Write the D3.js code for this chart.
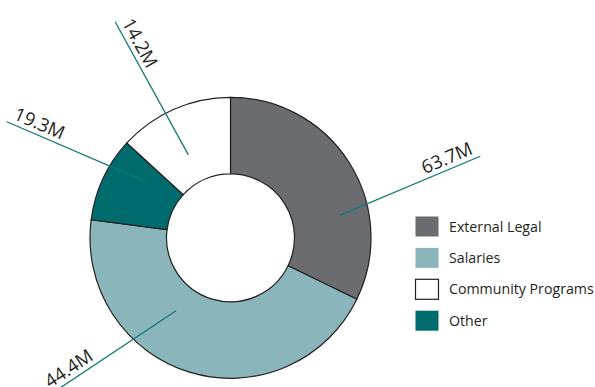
<!DOCTYPE html>
<html lang="en">
  <head>
    <meta charset="UTF-8" />
    <title>Expenses</title>
    <style>
      body { margin: 0; background: #fff; }
      text { font-family: "Open Sans", sans-serif; fill: #231f20; }
    </style>
  </head>
  <body>
    <svg id="svg" width="595" height="387"></svg>

    <script src="https://cdn.jsdelivr.net/npm/d3@7"></script>
    <script>
      // slices in clockwise order from 12 o'clock
      const categories = ["External Legal", "Salaries", "Other", "Community Programs"];
      // slice sizes as drawn in the picture (angles), not as the printed labels
      const sliceValues = [45.6, 63.5, 13.8, 18.7];
      const valueLabels = ["63.7M", "44.4M", "19.3M", "14.2M"];
      const legendOrder = ["External Legal", "Salaries", "Community Programs", "Other"];

      const COLORS = {
        "External Legal": "#6b6c70",
        "Salaries": "#8ab5ba",
        "Community Programs": "#ffffff",
        "Other": "#006b6d",
      };

      // hand-placed leader lines, relative to slice middle (degrees, px)
      const LEADERS = {
        "External Legal": { off: 20.4, r0: 112, tilt: 9.2 },
        "Salaries": { off: 20.1, r0: 91, tilt: 39.7 },
        "Other": { off: 8.75, r0: 101, tilt: -1.65 },
        "Community Programs": { off: -3.15, r0: 93, tilt: -5.05 },
      };
      const LEADER_LEN = 152;

      const CX = 230.5;
      const CY = 237.8;
      const OUTER = 140.5;
      const INNER = 64;

      const data = categories.map((c, i) => ({ name: c, value: sliceValues[i], label: valueLabels[i] }));
      const rad = (deg) => (deg * Math.PI) / 180;
      const polar = (a, r) => [r * Math.sin(a), -r * Math.cos(a)];

      const svg = d3.select("#svg");
      const g = svg.append("g").attr("transform", `translate(${CX},${CY})`);

      const pie = d3.pie().sort(null).value((d) => d.value);
      const arc = d3.arc().innerRadius(INNER).outerRadius(OUTER);
      const arcs = pie(data);

      g.selectAll("path.slice")
        .data(arcs)
        .enter()
        .append("path")
        .attr("class", "slice")
        .attr("d", arc)
        .attr("fill", (d) => COLORS[d.data.name])
        .attr("stroke", "#231f20")
        .attr("stroke-width", 1.2);

      // leader lines + rotated value labels
      arcs.forEach((d) => {
        const L = LEADERS[d.data.name];
        const mid = (d.startAngle + d.endAngle) / 2;
        const [x0, y0] = polar(mid + rad(L.off), L.r0);
        const dir = mid + rad(L.tilt);
        const ux = Math.sin(dir);
        const uy = -Math.cos(dir);
        const x1 = x0 + ux * LEADER_LEN;
        const y1 = y0 + uy * LEADER_LEN;

        g.append("line")
          .attr("x1", x0)
          .attr("y1", y0)
          .attr("x2", x1)
          .attr("y2", y1)
          .attr("stroke", "#11777c")
          .attr("stroke-width", 1.3);

        let rot = (Math.atan2(uy, ux) * 180) / Math.PI;
        let anchor = "end";
        let back = 5;
        if (ux < 0) {
          rot += 180;
          anchor = "start";
          back = 4;
        }
        const tx = x1 - ux * back;
        const ty = y1 - uy * back;
        g.append("text")
          .attr("transform", `translate(${tx},${ty}) rotate(${rot})`)
          .attr("dy", -5)
          .attr("text-anchor", anchor)
          .attr("font-size", 18.5)
          .text(d.data.label);
      });

      // legend
      const legend = svg.append("g").attr("transform", "translate(415,216)");
      const item = legend
        .selectAll("g")
        .data(legendOrder)
        .enter()
        .append("g")
        .attr("transform", (d, i) => `translate(0,${i * 31.4})`);

      item
        .append("rect")
        .attr("x", 0.5)
        .attr("y", 0.5)
        .attr("width", 23)
        .attr("height", 20)
        .attr("fill", (d) => COLORS[d])
        .attr("stroke", (d) => (d === "Community Programs" ? "#231f20" : "none"))
        .attr("stroke-width", 1.2);

      item
        .append("text")
        .attr("x", 34)
        .attr("y", 15.5)
        .attr("font-size", 14.2)
        .text((d) => d);
    </script>
  </body>
</html>
